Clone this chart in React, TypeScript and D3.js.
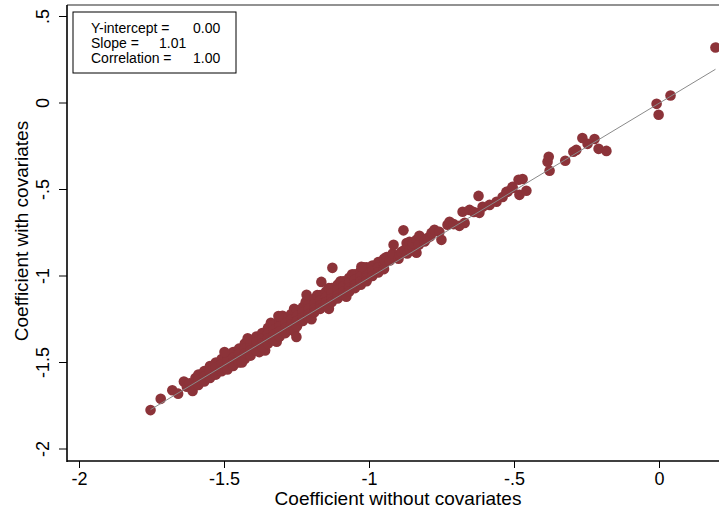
import React from 'react';
import * as d3 from 'd3';

// Coefficient without covariates (x) vs with covariates (y)
const coefPairs: [number, number][] = [
  [-1.755, -1.775], [-1.72, -1.71], [-1.68, -1.66], [-1.66, -1.68], [-1.64, -1.61], [-1.63, -1.64],
  [-1.61, -1.665], [-1.62, -1.62], [-1.60, -1.59], [-1.60, -1.63],
  [-1.59, -1.57], [-1.59, -1.60], [-1.59, -1.63],
  [-1.57, -1.55], [-1.57, -1.58], [-1.57, -1.61],
  [-1.55, -1.52], [-1.55, -1.55], [-1.55, -1.59],
  [-1.53, -1.50], [-1.53, -1.53], [-1.53, -1.57],
  [-1.51, -1.48], [-1.51, -1.51], [-1.51, -1.55],
  [-1.49, -1.46], [-1.49, -1.49], [-1.49, -1.52], [-1.49, -1.54],
  [-1.47, -1.44], [-1.47, -1.47], [-1.47, -1.50], [-1.47, -1.52],
  [-1.45, -1.42], [-1.45, -1.45], [-1.45, -1.48], [-1.45, -1.50],
  [-1.43, -1.39], [-1.43, -1.42], [-1.43, -1.45], [-1.43, -1.48],
  [-1.41, -1.37], [-1.41, -1.40], [-1.41, -1.43], [-1.41, -1.46],
  [-1.50, -1.44], [-1.42, -1.36], [-1.36, -1.43], [-1.44, -1.50], [-1.38, -1.44],
  [-1.39, -1.35], [-1.39, -1.38], [-1.39, -1.41], [-1.39, -1.43],
  [-1.37, -1.33], [-1.37, -1.36], [-1.37, -1.39], [-1.37, -1.41],
  [-1.35, -1.30], [-1.35, -1.33], [-1.35, -1.36], [-1.35, -1.39],
  [-1.34, -1.27], [-1.32, -1.38],
  [-1.33, -1.28], [-1.33, -1.31], [-1.33, -1.34], [-1.33, -1.37],
  [-1.31, -1.26], [-1.31, -1.29], [-1.31, -1.32], [-1.31, -1.35],
  [-1.30, -1.23],
  [-1.29, -1.24], [-1.29, -1.27], [-1.29, -1.30], [-1.29, -1.33],
  [-1.27, -1.22], [-1.27, -1.25], [-1.27, -1.28], [-1.27, -1.31],
  [-1.26, -1.19], [-1.26, -1.32],
  [-1.25, -1.20], [-1.25, -1.23], [-1.25, -1.26], [-1.25, -1.29],
  [-1.23, -1.18], [-1.23, -1.21], [-1.23, -1.24], [-1.23, -1.26],
  [-1.22, -1.15],
  [-1.21, -1.16], [-1.21, -1.19], [-1.21, -1.22], [-1.21, -1.24],
  [-1.20, -1.25],
  [-1.314, -1.231], [-1.252, -1.352], [-1.217, -1.109],
  [-1.19, -1.13], [-1.19, -1.16], [-1.19, -1.19], [-1.19, -1.21],
  [-1.18, -1.11],
  [-1.17, -1.11], [-1.17, -1.14], [-1.17, -1.17], [-1.17, -1.19],
  [-1.15, -1.09], [-1.15, -1.12], [-1.15, -1.15], [-1.15, -1.17],
  [-1.14, -1.07], [-1.14, -1.19],
  [-1.13, -1.07], [-1.13, -1.10], [-1.13, -1.13], [-1.13, -1.15],
  [-1.11, -1.05], [-1.11, -1.08], [-1.11, -1.11], [-1.11, -1.13],
  [-1.10, -1.03],
  [-1.09, -1.03], [-1.09, -1.06], [-1.09, -1.09], [-1.09, -1.11],
  [-1.08, -1.12],
  [-1.07, -1.01], [-1.07, -1.04], [-1.07, -1.07], [-1.07, -1.09],
  [-1.06, -0.99],
  [-1.05, -0.99], [-1.05, -1.02], [-1.05, -1.05], [-1.05, -1.07],
  [-1.03, -0.97], [-1.03, -1.00], [-1.03, -1.03], [-1.03, -1.05],
  [-1.02, -0.95],
  [-1.01, -0.95], [-1.01, -0.98], [-1.01, -1.01], [-1.01, -1.03],
  [-0.99, -0.94], [-0.99, -0.97], [-0.99, -1.00],
  [-0.97, -0.92], [-0.97, -0.95], [-0.97, -0.98],
  [-0.95, -0.90], [-0.95, -0.93], [-0.95, -0.96],
  [-1.166, -1.034], [-1.128, -0.953], [-1.028, -0.947], [-0.948, -0.907],
  [-0.941, -0.890], [-0.93, -0.91], [-0.92, -0.87], [-0.917, -0.82], [-0.90, -0.90], [-0.897, -0.878],
  [-0.89, -0.86], [-0.883, -0.736], [-0.879, -0.849], [-0.872, -0.809], [-0.87, -0.87], [-0.862, -0.803],
  [-0.86, -0.85], [-0.852, -0.832], [-0.85, -0.81], [-0.838, -0.866], [-0.838, -0.791], [-0.83, -0.82],
  [-0.828, -0.768], [-0.81, -0.80], [-0.80, -0.78], [-0.79, -0.77], [-0.786, -0.751], [-0.776, -0.733],
  [-0.759, -0.745], [-0.752, -0.791], [-0.731, -0.704], [-0.724, -0.687], [-0.71, -0.70], [-0.690, -0.710],
  [-0.679, -0.629], [-0.672, -0.693], [-0.655, -0.618], [-0.64, -0.63], [-0.624, -0.537], [-0.621, -0.635],
  [-0.610, -0.600], [-0.586, -0.589], [-0.562, -0.571], [-0.541, -0.543], [-0.528, -0.514], [-0.524, -0.513],
  [-0.507, -0.491], [-0.507, -0.485], [-0.486, -0.444], [-0.483, -0.531], [-0.472, -0.439], [-0.459, -0.507],
  [-0.386, -0.340], [-0.382, -0.311], [-0.379, -0.392], [-0.325, -0.334], [-0.297, -0.282], [-0.287, -0.271],
  [-0.266, -0.202], [-0.248, -0.236], [-0.224, -0.208], [-0.210, -0.265], [-0.183, -0.277],
  [-0.010, -0.005], [-0.003, -0.068], [0.038, 0.043], [0.193, 0.321],
];

const xTicks = [-2, -1.5, -1, -0.5, 0];
const xTickLabels = ['-2', '-1.5', '-1', '-.5', '0'];
const yTicks = [-2, -1.5, -1, -0.5, 0, 0.5];
const yTickLabels = ['-2', '-1.5', '-1', '-.5', '0', '.5'];
const fitIntercept = 0.0;
const fitSlope = 1.01;
const statLabels = ['Y-intercept =', 'Slope =', 'Correlation ='];
const statValues = ['0.00', '1.01', '1.00'];
const xTitle = 'Coefficient without covariates';
const yTitle = 'Coefficient with covariates';

const W = 719;
const H = 512;
const FONT = '"Liberation Sans", Arial, Helvetica, sans-serif';
const MARKER = '#8c3339';

export default function App() {
  const left = 67, top = 5, bottom = 461, right = 719;
  const x = d3.scaleLinear().domain([-2, 0]).range([79.5, 659.5]);
  const y = d3.scaleLinear().domain([-2, 0.5]).range([449, 16.5]);

  const xs = coefPairs.map((p) => p[0]);
  const fitX0 = d3.min(xs) as number;
  const fitX1 = d3.max(xs) as number;
  const line = d3.line<number>().x((d) => x(d)).y((d) => y(fitIntercept + fitSlope * d));

  const valueX = [193, 159, 193];

  return (
    <svg width={W} height={H} style={{ position: 'absolute', left: 0, top: 0, background: '#fff' }} fontFamily={FONT}>
      <rect x={0} y={0} width={W} height={H} fill="#fff" />
      <defs>
        <clipPath id="plotclip">
          <rect x={left} y={top} width={right - left + 10} height={bottom - top} />
        </clipPath>
      </defs>
      {/* plot region top border */}
      <line x1={left} x2={right} y1={top} y2={top} stroke="#6e6e6e" strokeWidth={1.3} />
      <g clipPath="url(#plotclip)">
        {coefPairs.map((p, i) => (
          <circle key={i} cx={x(p[0])} cy={y(p[1])} r={5.3} fill={MARKER} />
        ))}
        <path d={line([fitX0, fitX1]) || ''} stroke="#8a8a8a" strokeWidth={1} fill="none" />
      </g>
      {/* axes */}
      <line x1={left} x2={left} y1={top} y2={bottom + 1} stroke="#000" strokeWidth={1.6} />
      <line x1={left} x2={right} y1={bottom} y2={bottom} stroke="#000" strokeWidth={1.6} />
      {xTicks.map((t, i) => (
        <g key={'xt' + i}>
          <line x1={x(t)} x2={x(t)} y1={bottom} y2={bottom + 7} stroke="#000" strokeWidth={1} />
          <text x={x(t)} y={485} textAnchor="middle" fontSize={18} fill="#000">{xTickLabels[i]}</text>
        </g>
      ))}
      {yTicks.map((t, i) => (
        <g key={'yt' + i}>
          <line x1={left - 8} x2={left} y1={y(t)} y2={y(t)} stroke="#000" strokeWidth={1} />
          <text transform={`translate(49,${y(t)}) rotate(-90)`} textAnchor="middle" fontSize={18} fill="#000">{yTickLabels[i]}</text>
        </g>
      ))}
      <text x={398} y={505} textAnchor="middle" fontSize={19} fill="#000">{xTitle}</text>
      <text transform={`translate(28,231) rotate(-90)`} textAnchor="middle" fontSize={19} fill="#000">{yTitle}</text>
      {/* stats box */}
      <rect x={73} y={12} width={163} height={61} fill="#fff" stroke="#000" strokeWidth={1} />
      {statLabels.map((s, i) => (
        <g key={'st' + i}>
          <text x={91} y={33 + i * 15} fontSize={14} fill="#000">{s}</text>
          <text x={valueX[i]} y={33 + i * 15} fontSize={14} fill="#000">{statValues[i]}</text>
        </g>
      ))}
    </svg>
  );
}
